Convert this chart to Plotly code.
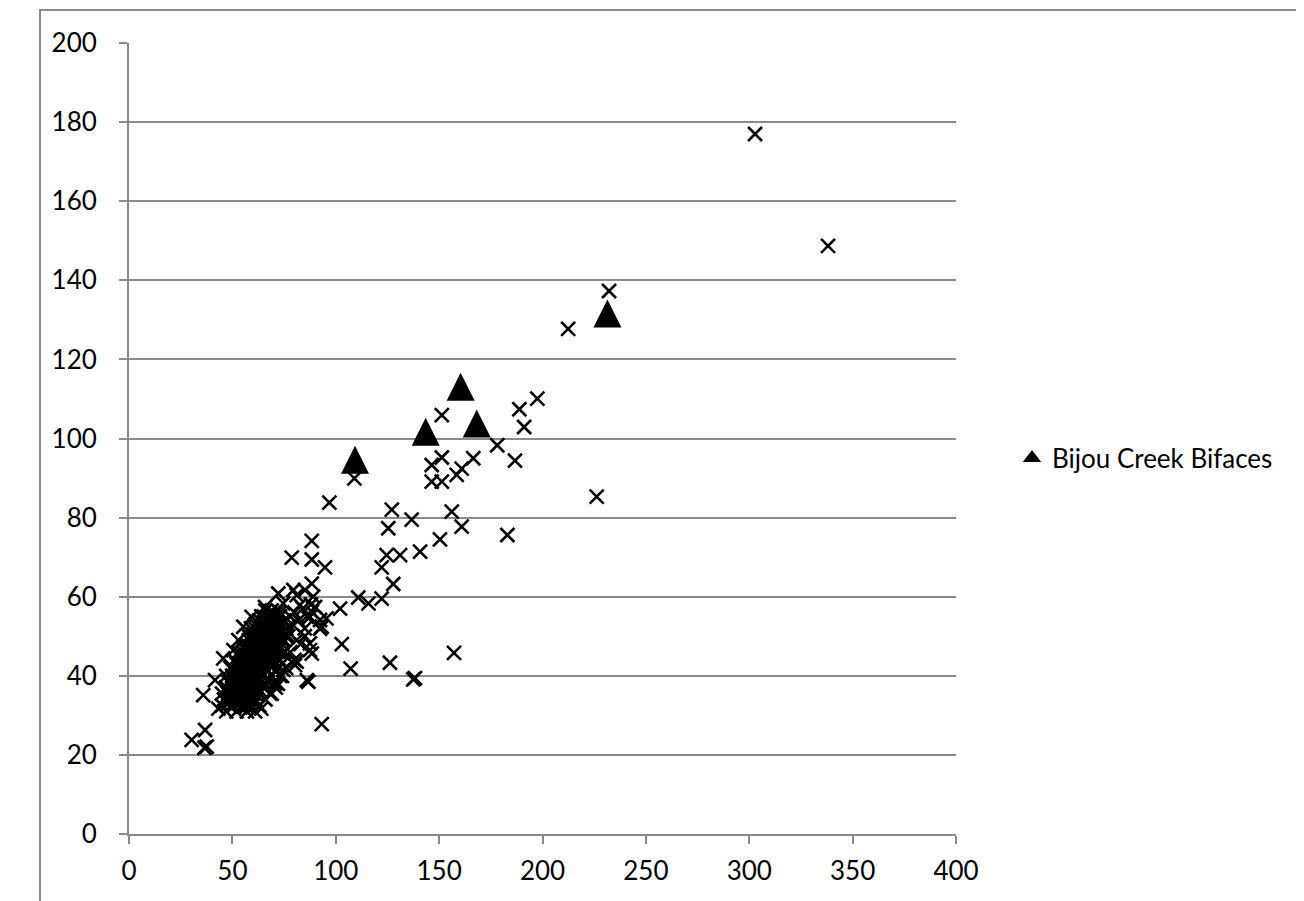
import plotly.graph_objects as go

# ---- data ----
others_x = [
    302.8, 338.1, 232.2, 212.4, 197.5, 188.8, 191.1, 178.1, 166.5, 186.7,
    151.3, 151.3, 146.4, 160.9, 158.5, 151.3, 146.4, 109.0, 96.9, 127.1,
    136.7, 125.4, 156.1, 160.9, 226.2, 150.4, 183.0,
    88.4, 78.7, 88.4, 94.8, 124.6, 131.1, 140.8, 122.2, 127.8, 88.4,
    110.9, 115.8, 122.2, 102.1, 102.9, 107.2, 126.2, 137.5, 138.3, 157.2,
    86.7, 93.2,
    30.3, 36.8, 37.6, 36.5, 35.9, 43.2, 45.6, 41.6, 64.0, 48.9, 56.9,
    72.2, 81.1, 65.8, 74.6, 82.7, 90.0, 59.3, 69.0, 87.5, 92.4, 55.3,
    52.9, 50.5, 81.1, 87.5, 80.3, 73.0, 86.0, 70.6, 68.2, 74.6,
    79.5, 85.1, 89.1, 88.4, 92.4, 93.2, 87.5, 88.4, 81.1, 74.6, 76.3, 95.5,
    46, 47, 47, 48, 48, 49, 49, 50, 50, 50, 51, 51, 51, 52, 52, 52, 53, 53,
    53, 53, 54, 54, 54, 55, 55, 55, 55, 56, 56, 56, 56, 57, 57, 57, 57, 58,
    58, 58, 58, 59, 59, 59, 59, 60, 60, 60, 60, 61, 61, 61, 61, 62, 62, 62,
    63, 63, 63, 63, 64, 64, 64, 65, 65, 65, 65, 66, 66, 66, 67, 67, 67, 68,
    68, 69, 69, 69, 70, 70, 70, 71, 72, 72, 73, 73, 74, 75, 75, 76, 77, 78,
    79, 80, 82, 84, 85, 86, 88, 83, 85, 78, 80, 76, 74, 72, 66, 64, 62, 58,
    56, 54, 52,
]
others_y = [
    177.0, 148.7, 137.3, 127.7, 110.1, 107.4, 102.9, 98.3, 95.0, 94.4,
    105.9, 95.2, 93.3, 92.4, 90.8, 89.1, 89.1, 89.9, 83.8, 82.0,
    79.5, 77.3, 81.5, 77.7, 85.3, 74.5, 75.6,
    74.1, 69.9, 69.4, 67.4, 70.5, 70.5, 71.4, 67.4, 63.2, 63.3,
    59.8, 58.3, 59.5, 57.0, 48.0, 41.8, 43.3, 39.1, 39.4, 45.8,
    38.5, 27.8,
    23.8, 26.3, 22.1, 21.8, 35.1, 31.7, 44.4, 38.9, 31.7, 32.2, 32.2,
    60.8, 60.4, 57.4, 58.3, 57.9, 57.4, 54.9, 54.9, 54.9, 51.9, 52.4,
    49.0, 46.5, 49.0, 46.5, 42.7, 44.0, 38.9, 38.1, 35.5, 41.5,
    61.7, 61.7, 60.0, 56.2, 54.1, 52.4, 48.2, 45.6, 43.6, 45.6, 49.8, 54.5,
    34, 37, 40, 33, 36, 38, 42, 34, 36, 40, 33, 38, 44, 35, 37, 41, 34, 39,
    43, 46, 36, 38, 41, 35, 40, 44, 47, 37, 39, 42, 45, 36, 41, 43, 48, 38,
    40, 44, 50, 37, 42, 46, 52, 39, 41, 44, 48, 38, 43, 47, 53, 40, 45, 50,
    42, 44, 48, 54, 41, 46, 51, 43, 47, 49, 55, 42, 45, 52, 44, 48, 54, 46,
    50, 43, 49, 53, 47, 51, 55, 45, 49, 53, 47, 56, 51, 49, 54, 52, 50, 55,
    53, 56, 54, 57, 52, 55, 58, 48, 50, 46, 44, 42, 40, 38, 38, 36, 35, 34,
    33, 32, 33,
]

# the densely overplotted core of the same series
core_x = [
    47, 52, 57, 61,
    45, 50, 55, 59, 63,
    46, 49, 52, 55, 58, 61, 66,
    45, 48, 51, 54, 57, 60, 63, 69,
    47, 50, 53, 56, 59, 62, 65, 71,
    48, 51, 54, 57, 60, 63, 67,
    50, 53, 56, 59, 62, 65, 69, 73,
    51, 54, 57, 60, 63, 66, 71,
    52, 55, 58, 61, 64, 67, 70, 74,
    54, 57, 60, 63, 66, 69, 72,
    55, 58, 61, 64, 67, 70, 75,
    57, 60, 63, 66, 69, 73,
    58, 61, 64, 67, 70, 74,
    60, 63, 66, 69, 72, 76,
    61, 64, 67, 70, 73,
    62, 65, 68, 71, 75,
    64, 67, 70, 73,
    66, 69, 72,
]
core_y = [
    31, 31, 31, 31,
    32.5, 32.5, 32.5, 32.5, 32.5,
    34, 34, 34, 34, 34, 34, 34,
    35.5, 35.5, 35.5, 35.5, 35.5, 35.5, 35.5, 35.5,
    37, 37, 37, 37, 37, 37, 37, 37,
    38.5, 38.5, 38.5, 38.5, 38.5, 38.5, 38.5,
    40, 40, 40, 40, 40, 40, 40, 40,
    41.5, 41.5, 41.5, 41.5, 41.5, 41.5, 41.5,
    43, 43, 43, 43, 43, 43, 43, 43,
    44.5, 44.5, 44.5, 44.5, 44.5, 44.5, 44.5,
    46, 46, 46, 46, 46, 46, 46,
    47.5, 47.5, 47.5, 47.5, 47.5, 47.5,
    49, 49, 49, 49, 49, 49,
    50.5, 50.5, 50.5, 50.5, 50.5, 50.5,
    52, 52, 52, 52, 52,
    53.5, 53.5, 53.5, 53.5, 53.5,
    55, 55, 55, 55,
    56.5, 56.5, 56.5,
]

bijou_x = [109.3, 143.5, 160.4, 168.2, 231.4]
bijou_y = [94.6, 101.7, 113.1, 103.8, 131.6]
bijou_name = "Bijou Creek Bifaces"

x_ticks = [0, 50, 100, 150, 200, 250, 300, 350, 400]
y_ticks = [0, 20, 40, 60, 80, 100, 120, 140, 160, 180, 200]

# ---- layout geometry (page pixels; the page body adds an 8px offset) ----
OFF = 8
W, H = 1304 - OFF, 901 - OFF
px_left, px_right, px_top, px_bottom = 129, 956, 43, 834
L = px_left - OFF
R = W - (px_right - OFF)
T = px_top - OFF
B = H - (px_bottom - OFF)
plot_w = px_right - px_left
plot_h = px_bottom - px_top


def paper_x(px):
    return (px - px_left) / plot_w


def paper_y(py):
    return (px_bottom - py) / plot_h


tri_size = 28
# arrow-up markers hang below their apex: shift a twin axis by half a marker
shift = (tri_size / 2) * (y_ticks[-1] - y_ticks[0]) / plot_h

grey = "#8a8a8a"
font = "Lato, 'Open Sans', sans-serif"

fig = go.Figure()
fig.add_trace(go.Scatter(
    x=others_x + core_x, y=others_y + core_y, mode="markers", showlegend=False,
    marker=dict(symbol="x-thin", size=14, color="black",
                line=dict(width=2.6, color="black")),
))
fig.add_trace(go.Scatter(
    x=bijou_x, y=bijou_y, mode="markers", showlegend=False, yaxis="y2",
    marker=dict(symbol="arrow-up", size=tri_size, color="black",
                line=dict(width=0)),
))
# legend entry for the triangles
fig.add_trace(go.Scatter(
    x=[None], y=[None], mode="markers", name=bijou_name,
    marker=dict(symbol="triangle-up", size=16, color="black"),
))

fig.update_layout(
    width=W, height=H,
    margin=dict(l=L, r=R, t=T, b=B, pad=0),
    paper_bgcolor="white", plot_bgcolor="white",
    font=dict(family=font, size=24, color="black"),
    xaxis=dict(
        range=[x_ticks[0], x_ticks[-1]], tickvals=x_ticks,
        showgrid=False, zeroline=False,
        showline=True, linecolor=grey, linewidth=2,
        ticks="outside", ticklen=8, tickwidth=2, tickcolor=grey,
        ticklabelstandoff=5,
        tickfont=dict(family=font, size=26, color="black"),
    ),
    yaxis=dict(
        range=[y_ticks[0], y_ticks[-1]], tickvals=y_ticks,
        showgrid=True, gridcolor=grey, gridwidth=2, zeroline=False,
        showline=True, linecolor=grey, linewidth=2,
        ticks="outside", ticklen=8, tickwidth=2, tickcolor=grey,
        ticklabelstandoff=17,
        tickfont=dict(family=font, size=26, color="black"),
    ),
    yaxis2=dict(
        overlaying="y", range=[y_ticks[0] - shift, y_ticks[-1] - shift],
        visible=False, showgrid=False, zeroline=False,
    ),
    legend=dict(
        x=paper_x(1012), y=paper_y(458),
        xanchor="left", yanchor="middle",
        font=dict(family=font, size=26, color="black"),
        bgcolor="rgba(0,0,0,0)", itemwidth=30,
    ),
    shapes=[dict(
        type="rect", xref="paper", yref="paper",
        x0=paper_x(40), x1=paper_x(1302),
        y0=paper_y(915), y1=paper_y(10),
        line=dict(color=grey, width=2), fillcolor="rgba(0,0,0,0)",
        layer="below",
    )],
)

fig.write_html("out.html")
